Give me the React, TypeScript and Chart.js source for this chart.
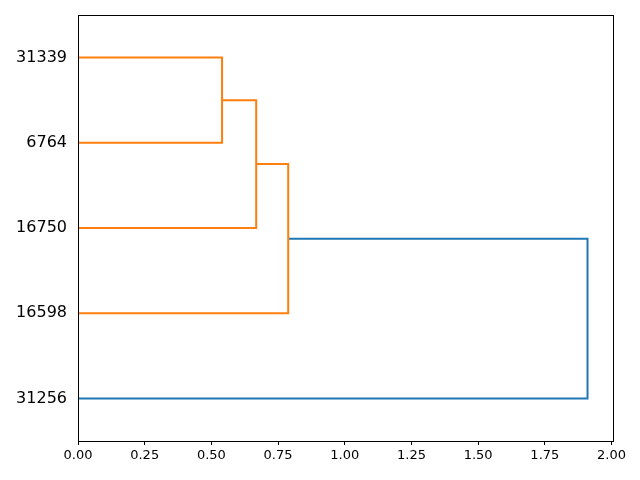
import React, { useEffect, useRef } from "react";
import { Chart, registerables } from "chart.js";

Chart.register(...registerables);

// Leaves from bottom to top (y positions 5, 15, 25, ...)
const leafLabels = ["31256", "16598", "16750", "6764", "31339"];
// Merges: children < 5 are leaves (index in leafLabels), >=5 are earlier merges
const mergeLeft = [4, 5, 6, 7];
const mergeRight = [3, 2, 1, 0];
const mergeHeights = [0.54, 0.668, 0.788, 1.91];
const mergeColors = ["#ff7f0e", "#ff7f0e", "#ff7f0e", "#1f77b4"];
const xTicks = [0, 0.25, 0.5, 0.75, 1.0, 1.25, 1.5, 1.75, 2.0];

function buildLinks() {
  const nLeaves = leafLabels.length;
  const pos: number[] = leafLabels.map((_, i) => 5 + i * 10);
  const hgt: number[] = leafLabels.map(() => 0);
  const links: { pts: { x: number; y: number }[]; color: string }[] = [];
  for (let k = 0; k < mergeHeights.length; k++) {
    const a = mergeLeft[k];
    const b = mergeRight[k];
    const h = mergeHeights[k];
    links.push({
      pts: [
        { x: hgt[a], y: pos[a] },
        { x: h, y: pos[a] },
        { x: h, y: pos[b] },
        { x: hgt[b], y: pos[b] },
      ],
      color: mergeColors[k],
    });
    pos[nLeaves + k] = (pos[a] + pos[b]) / 2;
    hgt[nLeaves + k] = h;
  }
  return links;
}

const frame = {
  id: "frame",
  afterDraw(chart: any) {
    const { ctx, chartArea: a } = chart;
    ctx.save();
    ctx.strokeStyle = "#000";
    ctx.lineWidth = 1;
    ctx.strokeRect(Math.round(a.left) + 0.5, Math.round(a.top) + 0.5, Math.round(a.right - a.left), Math.round(a.bottom - a.top));
    ctx.restore();
  },
};

export default function App() {
  const ref = useRef<HTMLCanvasElement>(null);
  useEffect(() => {
    const links = buildLinks();
    const maxH = Math.max(...mergeHeights);
    const chart = new Chart(ref.current!, {
      type: "scatter",
      data: {
        datasets: links.map((l) => ({
          data: l.pts,
          showLine: true,
          borderColor: l.color,
          backgroundColor: l.color,
          borderWidth: 2,
          pointRadius: 0,
          tension: 0,
        })),
      },
      options: {
        animation: false,
        responsive: false,
        layout: { padding: { top: 15, right: 27, bottom: 0, left: 0 } },
        plugins: { legend: { display: false }, tooltip: { enabled: false } },
        scales: {
          x: {
            type: "linear",
            min: 0,
            max: maxH * 1.05,
            afterBuildTicks: (s: any) => {
              s.ticks = xTicks.map((v) => ({ value: v }));
            },
            afterFit: (s: any) => {
              s.height = 39;
              s.paddingLeft = 0;
              s.paddingRight = 0;
            },
            border: { display: false },
            grid: { drawOnChartArea: false, drawTicks: true, tickLength: 4, color: "#000", tickWidth: 1 },
            ticks: {
              color: "#000",
              padding: 3,
              maxRotation: 0,
              font: { family: "DejaVu Sans", size: 13 },
              callback: (v: any) => Number(v).toFixed(2),
            },
          },
          y: {
            type: "linear",
            min: 0,
            max: leafLabels.length * 10,
            afterBuildTicks: (s: any) => {
              s.ticks = leafLabels.map((_, i) => ({ value: 5 + i * 10 }));
            },
            afterFit: (s: any) => {
              s.width = 78;
              s.paddingTop = 0;
              s.paddingBottom = 0;
            },
            border: { display: false },
            grid: { display: false, drawTicks: false },
            ticks: {
              color: "#000",
              padding: 11,
              font: { family: "DejaVu Sans", size: 16 },
              callback: (v: any) => {
                const i = Math.round((Number(v) - 5) / 10);
                return leafLabels[i] ?? "";
              },
            },
          },
        },
      },
      plugins: [frame],
    });
    return () => chart.destroy();
  }, []);
  return (
    <div style={{ position: "fixed", left: 0, top: 0, width: 640, height: 480, background: "#fff" }}>
      <canvas ref={ref} width={640} height={480} />
    </div>
  );
}
